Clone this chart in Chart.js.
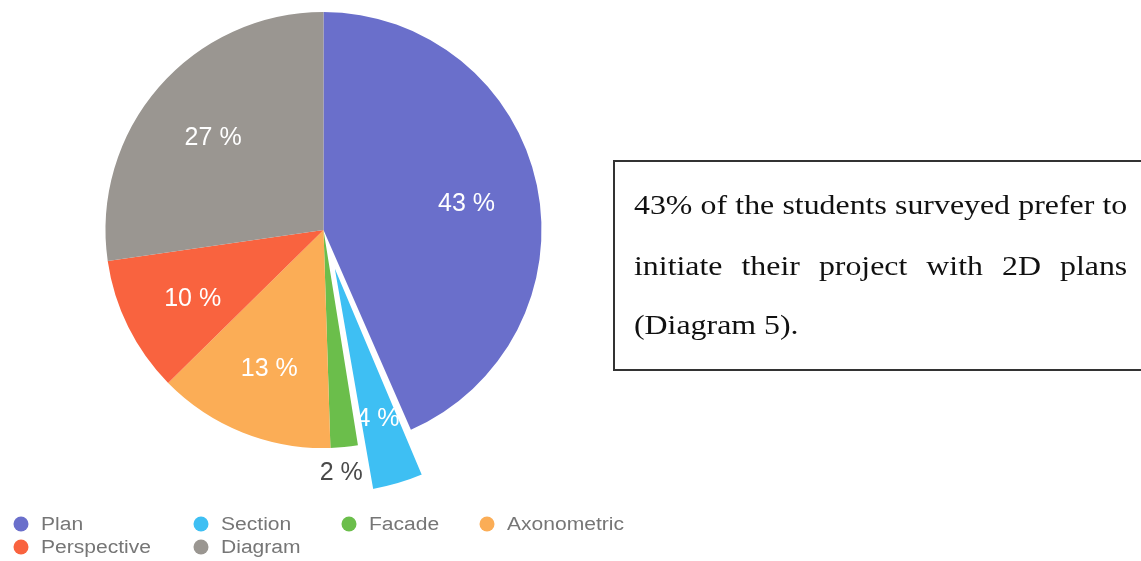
<!DOCTYPE html>
<html>
<head>
<meta charset="utf-8">
<script src="https://cdn.jsdelivr.net/npm/chart.js@4.4.1/dist/chart.umd.min.js"></script>
<style>
  html, body { margin: 0; padding: 0; background: #fff; }
  body { width: 1141px; height: 561px; position: relative; overflow: hidden; }
  #wrap { position: absolute; left: 0; top: 0; width: 1141px; height: 561px; }
  #note {
    position: absolute; left: 613px; top: 160px; width: 600px; height: 207px;
    border: 2px solid #333;
  }
  .line {
    position: absolute; left: 634px; width: 418px; height: 60px; line-height: 60px;
    font-family: "Liberation Serif", "Times New Roman", serif; font-size: 27px; color: #111;
    transform: scaleX(1.18); transform-origin: 0 0; white-space: nowrap;
  }
  .just { text-align: justify; text-align-last: justify; }
</style>
</head>
<body>
<div id="wrap"><canvas id="pie" width="1141" height="561"></canvas></div>
<div id="note"></div>
<div class="line just" style="top:175px">43% of the students surveyed prefer to</div>
<div class="line just" style="top:236px">initiate their project with 2D plans</div>
<div class="line" style="top:295px">(Diagram 5).</div>

<script>
// Survey answers: preferred way to start a project (percent of students)
const categories = ['Plan', 'Section', 'Facade', 'Axonometric', 'Perspective', 'Diagram'];
const shares = [43, 4, 2, 13, 10, 27];
const sliceColors = ['#6A6FCB', '#3EBFF3', '#6BBE4B', '#FBAD56', '#F9633F', '#9A9691'];
// Section slice is pulled out of the pie
const pullOut = [0, 108, 0, 0, 0, 0];
const outlineWidth = [0, 3, 0, 0, 0, 0];

// Legend grid: two rows, four fixed columns
const legendCols = [21, 201, 349, 487];
const legendRows = [524, 547];

// Percent labels drawn on the slices (small slices get theirs outside)
const sliceLabels = {
  id: 'sliceLabels',
  afterDatasetsDraw(chart) {
    const ctx = chart.ctx;
    const meta = chart.getDatasetMeta(0);
    const data = chart.data.datasets[0].data;
    ctx.save();
    ctx.textAlign = 'center';
    ctx.textBaseline = 'middle';
    ctx.font = '25px "Liberation Sans", Arial, sans-serif';
    meta.data.forEach((arc, i) => {
      const p = arc.getProps(['x', 'y', 'startAngle', 'endAngle', 'outerRadius', 'circumference']);
      const mid = (p.startAngle + p.endAngle) / 2;
      const off = (arc.options.offset || 0) / 4;
      const fix = 1 - Math.sin(Math.min(Math.PI, p.circumference || 0));
      const shift = off + off * fix;
      const small = data[i] < 3;
      const r = small ? p.outerRadius + 22 : p.outerRadius * 0.67 + shift;
      const lx = p.x + Math.cos(mid) * r - (small ? 5 : 0);
      const ly = p.y + Math.sin(mid) * r + 4;
      ctx.fillStyle = small ? '#4a4a4a' : '#ffffff';
      ctx.fillText(data[i] + ' %', lx, ly);
    });
    ctx.restore();
  }
};

// Legend with round markers laid out in a fixed grid
const gridLegend = {
  id: 'gridLegend',
  afterDraw(chart) {
    const ctx = chart.ctx;
    const ds = chart.data.datasets[0];
    ctx.save();
    ctx.textBaseline = 'middle';
    ctx.font = '18px "Liberation Sans", Arial, sans-serif';
    chart.data.labels.forEach((label, i) => {
      const cx = legendCols[i % 4];
      const cy = legendRows[Math.floor(i / 4)];
      ctx.fillStyle = ds.backgroundColor[i];
      ctx.beginPath();
      ctx.arc(cx, cy, 7.5, 0, Math.PI * 2);
      ctx.fill();
      ctx.save();
      ctx.translate(cx + 20, cy + 1);
      ctx.scale(1.17, 1);
      ctx.fillStyle = '#767676';
      ctx.fillText(label, 0, 0);
      ctx.restore();
    });
    ctx.restore();
  }
};

new Chart(document.getElementById('pie'), {
  type: 'pie',
  data: {
    labels: categories,
    datasets: [{
      data: shares,
      backgroundColor: sliceColors,
      borderColor: '#ffffff',
      borderWidth: outlineWidth,
      offset: pullOut,
      clip: false
    }]
  },
  options: {
    responsive: false,
    animation: false,
    radius: 218,
    layout: { padding: { left: 0, top: 0, right: 494, bottom: 101 } },
    plugins: { legend: { display: false }, tooltip: { enabled: false } }
  },
  plugins: [sliceLabels, gridLegend]
});
</script>
</body>
</html>
